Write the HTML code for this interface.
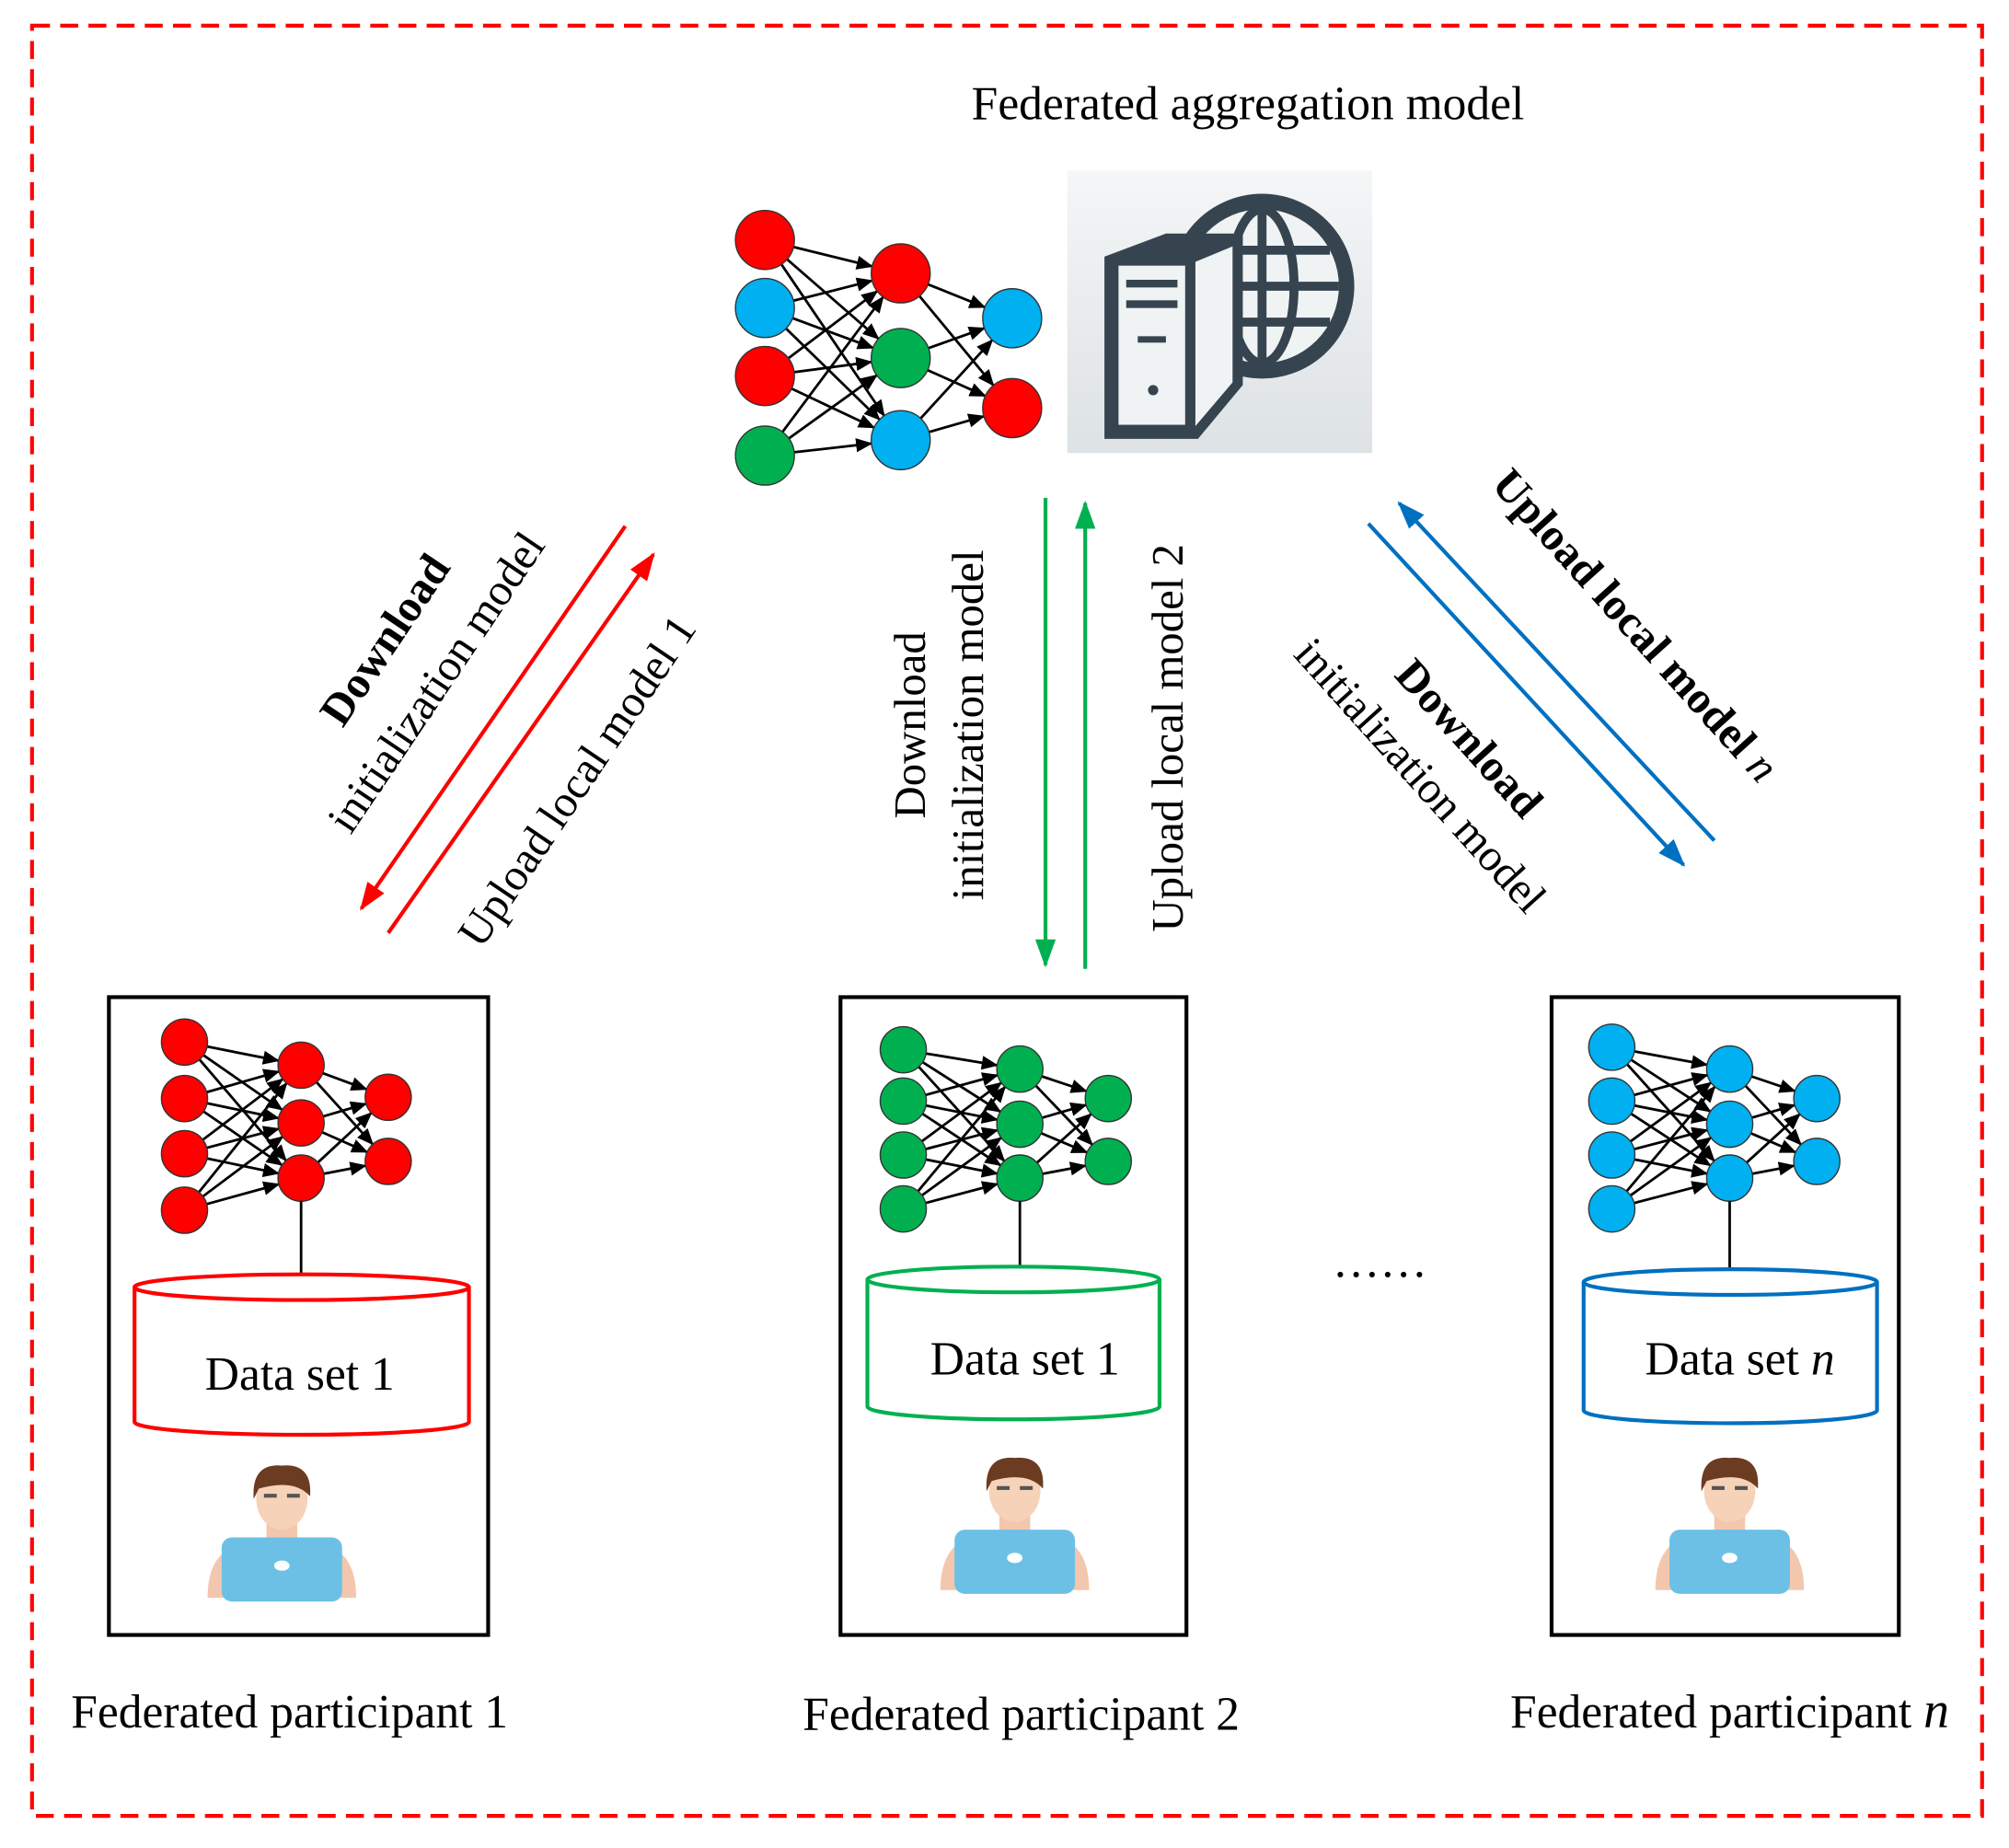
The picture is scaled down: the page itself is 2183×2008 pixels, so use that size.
<!DOCTYPE html>
<html><head><meta charset="utf-8"><style>
html,body{margin:0;padding:0;background:#fff;}
svg{display:block;}
text{font-family:"Liberation Serif",serif;fill:#000;}
</style></head><body>
<svg id="s" width="2183" height="2008" viewBox="0 0 1568 1440" preserveAspectRatio="none" xmlns="http://www.w3.org/2000/svg">
<defs>
<marker id="ak" markerWidth="13" markerHeight="11" refX="12" refY="5.5" orient="auto" markerUnits="userSpaceOnUse"><path d="M0,0 L13,5.5 L0,11 z" fill="#000"/></marker>
<marker id="ar" markerWidth="22" markerHeight="16" refX="20" refY="8" orient="auto" markerUnits="userSpaceOnUse"><path d="M0,0 L22,8 L0,16 z" fill="#f00"/></marker>
<marker id="ag" markerWidth="22" markerHeight="16" refX="20" refY="8" orient="auto" markerUnits="userSpaceOnUse"><path d="M0,0 L22,8 L0,16 z" fill="#00b050"/></marker>
<marker id="ab" markerWidth="22" markerHeight="16" refX="20" refY="8" orient="auto" markerUnits="userSpaceOnUse"><path d="M0,0 L22,8 L0,16 z" fill="#0070c0"/></marker>
<linearGradient id="gb" x1="0" y1="0" x2="0" y2="1"><stop offset="0" stop-color="#f4f6f7"/><stop offset="1" stop-color="#dde2e5"/></linearGradient>
</defs>
<rect x="25" y="20" width="1522" height="1395" fill="none" stroke="#f00" stroke-width="3" stroke-dasharray="14,8"/>
<text x="974" y="93" font-size="37" text-anchor="middle">Federated aggregation model</text>
<g id="nets"></g>
<rect x="833" y="133" width="238" height="220" fill="url(#gb)"/>
<circle cx="985" cy="223" r="72" fill="#36444f"/>
<circle cx="985" cy="223" r="60" fill="#f0f3f4"/>
<g stroke="#36444f" stroke-width="7" fill="none">
<ellipse cx="985" cy="223" rx="25" ry="60"/><line x1="985" y1="163" x2="985" y2="283"/>
<line x1="925" y1="223" x2="1045" y2="223"/><line x1="932" y1="195" x2="1038" y2="195"/><line x1="932" y1="251" x2="1038" y2="251"/>
</g>
<path d="M862,200 L910,182 L970,182 L970,300 L935,342 L862,342 Z" fill="#36444f"/>
<rect x="873" y="207" width="52" height="124" fill="#f0f3f4"/>
<path d="M933,204 L962,192 L962,298 L933,332 Z" fill="#f0f3f4"/>
<rect x="879" y="218" width="40" height="6" fill="#36444f"/><rect x="879" y="234" width="40" height="6" fill="#36444f"/>
<rect x="888" y="262" width="22" height="5" fill="#36444f"/><circle cx="900" cy="304" r="4" fill="#36444f"/>
<line x1="488" y1="410" x2="282" y2="708" stroke="#f00" stroke-width="3" marker-end="url(#ar)"/>
<line x1="303" y1="727" x2="510" y2="432" stroke="#f00" stroke-width="3" marker-end="url(#ar)"/>
<g font-size="35" text-anchor="middle">
<text transform="translate(310,505) rotate(-56)" font-weight="bold">Download</text>
<text transform="translate(350,538) rotate(-56)">initialization model</text>
<text transform="translate(460,615) rotate(-56)">Upload local model 1</text>
</g>
<line x1="816" y1="388" x2="816" y2="752" stroke="#00b050" stroke-width="3" marker-end="url(#ag)"/>
<line x1="847" y1="755" x2="847" y2="392" stroke="#00b050" stroke-width="3" marker-end="url(#ag)"/>
<g font-size="35" text-anchor="middle">
<text transform="translate(722,565) rotate(-90)">Download</text>
<text transform="translate(767,565) rotate(-90)">initialization model</text>
<text transform="translate(923,575) rotate(-90)">Upload local model 2</text>
</g>
<line x1="1068" y1="408" x2="1314" y2="674" stroke="#0070c0" stroke-width="3" marker-end="url(#ab)"/>
<line x1="1338" y1="655" x2="1092" y2="392" stroke="#0070c0" stroke-width="3" marker-end="url(#ab)"/>
<g font-size="35" text-anchor="middle">
<text transform="translate(1268,495) rotate(48)"><tspan font-weight="bold">Upload local model </tspan><tspan font-style="italic">n</tspan></text>
<text transform="translate(1138,583) rotate(48)" font-weight="bold">Download</text>
<text transform="translate(1100,612) rotate(48)">initialization model</text>
</g>
<g fill="none" stroke="#000" stroke-width="3">
<rect x="85" y="777" width="296" height="497"/>
<rect x="656" y="777" width="270" height="497"/>
<rect x="1211" y="777" width="271" height="497"/>
</g>
<g id="cyl"></g>
<g font-size="37" text-anchor="middle">
<text x="234" y="1083">Data set 1</text>
<text x="800" y="1071">Data set 1</text>
<text x="1358" y="1071">Data set <tspan font-style="italic">n</tspan></text>
<text x="226" y="1346">Federated participant 1</text>
<text x="797" y="1348">Federated participant 2</text>
<text x="1350" y="1346">Federated participant <tspan font-style="italic" font-size="40">n</tspan></text>
<text x="1077" y="995">……</text>
</g>
<g id="ppl"></g>
</svg>
<script>
var NS="http://www.w3.org/2000/svg";
function el(p,t,a){var e=document.createElementNS(NS,t);for(var k in a)e.setAttribute(k,a[k]);document.getElementById(p).appendChild(e);return e;}
var R="#f00",B="#00b0f0",G="#00b050";
function net(ix,iy,hx,hy,ox,oy,r,cols,sw){
 var L=[[ix,iy],[hx,hy],[ox,oy]];
 for(var l=0;l<2;l++){var a=L[l],b=L[l+1];
  a[1].forEach(function(y1){b[1].forEach(function(y2){
   var dx=b[0]-a[0],dy=y2-y1,d=Math.sqrt(dx*dx+dy*dy);
   el("nets","line",{x1:a[0]+dx/d*r,y1:y1+dy/d*r,x2:b[0]-dx/d*r,y2:y2-dy/d*r,stroke:"#000","stroke-width":sw,"marker-end":"url(#ak)"});});});}
 var c=0;L.forEach(function(a){a[1].forEach(function(y){el("nets","circle",{cx:a[0],cy:y,r:r,fill:cols[c++],stroke:"#333","stroke-width":1});});});
}
net(597,[187,240,293,355],703,[213,279,343],790,[248,318],23,[R,B,R,G,R,G,B,B,R],2);
function small(ix,hx,ox,c,iy,hy,oy,cy){net(ix,iy,hx,hy,ox,oy,18,[c,c,c,c,c,c,c,c,c],2);
 el("nets","line",{x1:hx,y1:hy[2]+18,x2:hx,y2:cy,stroke:"#000","stroke-width":2});}
small(144,235,303,R,[812,856,899,943],[830,875,918],[855,905],993);
small(705,796,865,G,[818,858,900,942],[833,876,918],[856,905],988);
small(1258,1350,1418,B,[816,858,900,942],[833,876,918],[856,905],990);
function cyl(x1,x2,t,b,c){var cx=(x1+x2)/2,rx=(x2-x1)/2,ry=10;
 el("cyl","path",{d:"M"+x1+","+t+" L"+x1+","+b+" A"+rx+","+ry+" 0 0 0 "+x2+","+b+" L"+x2+","+t,fill:"#fff",stroke:c,"stroke-width":3});
 el("cyl","ellipse",{cx:cx,cy:t,rx:rx,ry:ry,fill:"#fff",stroke:c,"stroke-width":3});}
cyl(105,366,1003,1108,"#f00");cyl(677,905,997,1096,"#00b050");cyl(1236,1465,999,1099,"#0070c0");
function person(cx,ty){
 el("ppl","path",{d:"M"+(cx-58)+","+(ty+105)+" Q"+(cx-58)+","+(ty+65)+" "+(cx-25)+","+(ty+62)+" L"+(cx+25)+","+(ty+62)+" Q"+(cx+58)+","+(ty+65)+" "+(cx+58)+","+(ty+105)+" Z",fill:"#f3c7ad"});
 el("ppl","rect",{x:cx-12,y:ty+45,width:24,height:20,fill:"#f3c7ad"});
 el("ppl","ellipse",{cx:cx,cy:ty+28,rx:20,ry:24,fill:"#f6d2b8"});
 el("ppl","path",{d:"M"+(cx-22)+","+(ty+28)+" Q"+(cx-24)+","+ty+" "+cx+","+(ty+2)+" Q"+(cx+24)+","+(ty)+" "+(cx+22)+","+(ty+26)+" Q"+(cx+10)+","+(ty+12)+" "+(cx-18)+","+(ty+20)+" Z",fill:"#6b3b22"});
 el("ppl","rect",{x:cx-14,y:ty+24,width:10,height:3,fill:"#555"});el("ppl","rect",{x:cx+4,y:ty+24,width:10,height:3,fill:"#555"});
 el("ppl","rect",{x:cx-47,y:ty+58,width:94,height:50,rx:8,fill:"#6cc0e5"});
 el("ppl","ellipse",{cx:cx,cy:ty+80,rx:6,ry:4,fill:"#fff"});
}
person(220,1140);person(792,1134);person(1350,1134);
</script>
</body></html>
